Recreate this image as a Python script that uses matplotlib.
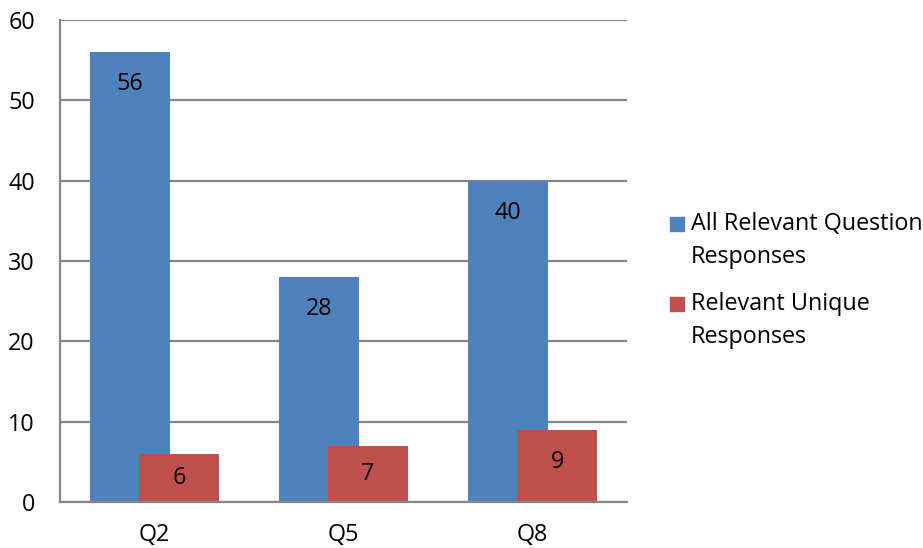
import matplotlib
matplotlib.use("Agg")
import matplotlib.pyplot as plt
from matplotlib.patches import Rectangle

categories = ["Q2", "Q5", "Q8"]
all_responses = [56, 28, 40]
unique_responses = [6, 7, 9]
series_names = ["All Relevant Question\nResponses", "Relevant Unique\nResponses"]
y_ticks = [0, 10, 20, 30, 40, 50, 60]

BLUE = "#4F81BD"
RED = "#C0504D"
GRID = "#868686"
FONT = ["Open Sans", "DejaVu Sans"]
plt.rcParams["font.family"] = FONT
FS = 16.8

W, H = 923, 548
fig = plt.figure(figsize=(W / 100, H / 100), dpi=100)
left_px, right_px, top_px, bottom_px = 60, 627, 20, 502
ax = fig.add_axes([left_px / W, 1 - bottom_px / H,
                   (right_px - left_px) / W, (bottom_px - top_px) / H])

x = range(len(categories))
width = 0.423
offset = 0.13
ax.bar([i - offset for i in x], all_responses, width, color=BLUE, zorder=2)
ax.bar([i + offset for i in x], unique_responses, width, color=RED, zorder=3)

ax.set_xlim(-0.5, 2.5)
ax.set_ylim(0, 60)
ax.set_yticks(y_ticks)
ax.set_xticks(list(x))
ax.set_xticklabels(categories)
ax.tick_params(axis="both", length=0, labelsize=FS, colors="black")
ax.tick_params(axis="y", pad=18)
ax.tick_params(axis="x", pad=15)
ax.yaxis.grid(True, color=GRID, linewidth=1.6, zorder=0)
ax.set_axisbelow(True)
for s in ("top", "right"):
    ax.spines[s].set_visible(False)
for s in ("left", "bottom"):
    ax.spines[s].set_color(GRID)
    ax.spines[s].set_linewidth(1.6)
ax.spines["bottom"].set_zorder(4)

# value labels: near the inside end of each bar, centered for short bars
units_per_px = 60 / (bottom_px - top_px)
inset = 32 * units_per_px
for i in x:
    for v, dx, z in ((all_responses[i], -offset, 5), (unique_responses[i], offset, 6)):
        ypos = max(v - inset, v / 2)
        ax.text(i + dx, ypos, str(v), ha="center", va="center",
                fontsize=FS, zorder=z)

# legend
colors = [BLUE, RED]
first_line_y = [224, 304]
for name, c, yy in zip(series_names, colors, first_line_y):
    fig.patches.append(Rectangle((670 / W, 1 - (yy + 7) / H), 14 / W, 14 / H,
                                 transform=fig.transFigure, color=c))
    lines = name.split("\n")
    for k, line in enumerate(lines):
        fig.text(691 / W, 1 - (yy + 33 * k) / H, line, ha="left",
                 va="center", fontsize=FS)

fig.savefig("out.png", dpi=100)
